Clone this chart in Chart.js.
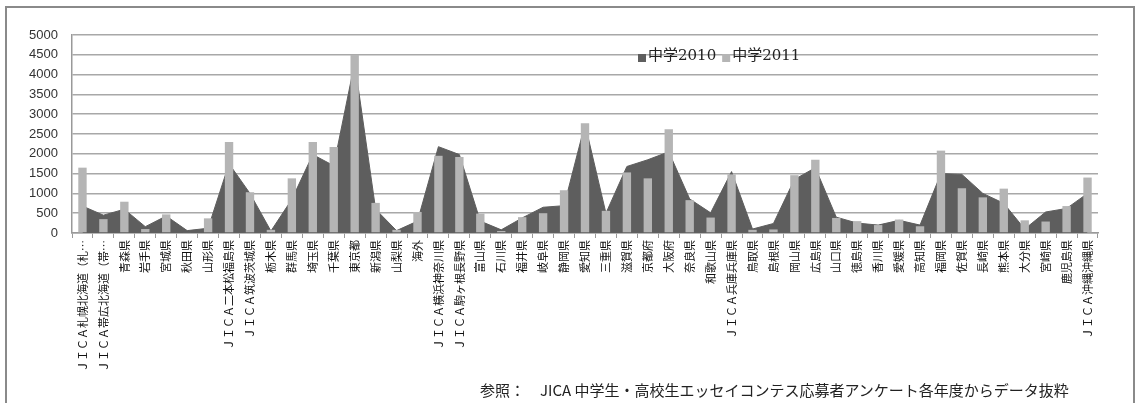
<!DOCTYPE html>
<html>
<head>
<meta charset="utf-8">
<script src="https://cdn.jsdelivr.net/npm/chart.js@4.4.1/dist/chart.umd.min.js"></script>
<style>
  body { margin: 0; background: #fff; }
  #wrap { position: relative; width: 1139px; height: 403px; overflow: hidden; }
  #frame { position: absolute; left: 5px; top: 6px; width: 1126px; height: 420px; border: 2px solid #8a8a8a; }
  #chart { position: absolute; left: 0; top: 0; }
  #note { position: absolute; left: 480px; top: 379px; font: 15px "Noto Sans CJK JP", sans-serif; color: #222; white-space: nowrap; }
</style>
</head>
<body>
<div id="wrap">
  <div id="frame"></div>
  <canvas id="chart" width="1139" height="403"></canvas>
  <div id="note">参照：　JICA 中学生・高校生エッセイコンテス応募者アンケート各年度からデータ抜粋</div>
</div>
<script>
// categories (prefectures / JICA centres)
const categories = [
  'ＪＩＣＡ札幌北海道（札…', 'ＪＩＣＡ帯広北海道（帯…', '青森県', '岩手県', '宮城県', '秋田県', '山形県',
  'ＪＩＣＡ二本松福島県', 'ＪＩＣＡ筑波茨城県', '栃木県', '群馬県', '埼玉県', '千葉県', '東京都',
  '新潟県', '山梨県', '海外', 'ＪＩＣＡ横浜神奈川県', 'ＪＩＣＡ駒ヶ根長野県', '富山県', '石川県',
  '福井県', '岐阜県', '静岡県', '愛知県', '三重県', '滋賀県', '京都府', '大阪府', '奈良県',
  '和歌山県', 'ＪＩＣＡ兵庫兵庫県', '鳥取県', '島根県', '岡山県', '広島県', '山口県', '徳島県',
  '香川県', '愛媛県', '高知県', '福岡県', '佐賀県', '長崎県', '熊本県', '大分県', '宮崎県',
  '鹿児島県', 'ＪＩＣＡ沖縄沖縄県'
];

// 中学2010 (area)
const junior2010 = [
  680, 450, 600, 160, 430, 60, 120, 1750, 1000, 50, 850, 1980, 1700, 4300,
  600, 60, 300, 2180, 1980, 300, 80, 380, 650, 690, 2750, 500, 1680, 1850,
  2050, 860, 510, 1550, 100, 240, 1350, 1650, 400, 250, 200, 320, 200, 1500,
  1480, 1000, 750, 100, 530, 620, 1000
];

// 中学2011 (columns)
const junior2011 = [
  1650, 350, 790, 100, 470, 20, 370, 2300, 1030, 80, 1380, 2300, 2170, 4500,
  760, 80, 530, 1950, 1920, 490, 50, 400, 500, 1080, 2770, 560, 1530, 1380,
  2620, 830, 390, 1480, 80, 90, 1460, 1850, 380, 300, 200, 340, 170, 2080,
  1130, 900, 1120, 320, 290, 680, 1400
];

const seriesNames = ['中学2010', '中学2011'];
const yMax = 5000;
const yStep = 500;

const DARK = '#5e5e5e';
const LIGHT = '#b5b5b5';

// legend drawn inside the plot area, like the original
const innerLegend = {
  id: 'innerLegend',
  afterDraw(chart) {
    const ctx = chart.ctx;
    ctx.save();
    ctx.font = '15px "DejaVu Serif", "Noto Sans CJK JP", serif';
    ctx.textBaseline = 'middle';
    let x = 638;
    const y = 56;
    [DARK, LIGHT].forEach((c, i) => {
      ctx.fillStyle = c;
      ctx.fillRect(x, y - 2, 8, 8);
      x += 10;
      ctx.fillStyle = '#222';
      ctx.fillText(seriesNames[i], x, y);
      x += ctx.measureText(seriesNames[i]).width + 6;
    });
    ctx.restore();
  }
};

new Chart(document.getElementById('chart'), {
  type: 'bar',
  data: {
    labels: categories,
    datasets: [
      {
        type: 'line',
        label: seriesNames[0],
        data: junior2010,
        fill: 'origin',
        backgroundColor: DARK,
        borderColor: DARK,
        borderWidth: 1,
        pointRadius: 0,
        tension: 0,
        order: 2,
      },
      {
        label: seriesNames[1],
        data: junior2011,
        backgroundColor: LIGHT,
        barPercentage: 0.4,
        categoryPercentage: 1,
        order: 1,
      },
    ],
  },
  options: {
    responsive: false,
    animation: false,
    layout: { padding: { top: 35, right: 41, left: 0, bottom: 0 } },
    plugins: {
      legend: { display: false },
      tooltip: { enabled: false },
    },
    scales: {
      x: {
        offset: true,
        grid: { display: true, drawOnChartArea: false, drawTicks: true, tickLength: 5, color: '#999', offset: true },
        border: { display: true, color: '#999', width: 1.5 },
        ticks: {
          autoSkip: false,
          minRotation: 90,
          maxRotation: 90,
          padding: 2,
          color: '#111',
          font: { size: 11, family: '"Noto Sans CJK JP", sans-serif' },
        },
        afterFit: (scale) => { scale.height = 170; },
      },
      y: {
        min: 0,
        max: yMax,
        ticks: {
          stepSize: yStep,
          padding: 14,
          color: '#333',
          font: { size: 13, family: '"Liberation Sans", Arial, sans-serif' },
          callback: (v) => String(v),
        },
        grid: { color: '#a8a8a8', lineWidth: 1.5, drawTicks: false },
        border: { display: true, color: '#999', width: 1.5 },
        afterFit: (scale) => { scale.width = 72; },
      },
    },
  },
  plugins: [innerLegend],
});
</script>
</body>
</html>
